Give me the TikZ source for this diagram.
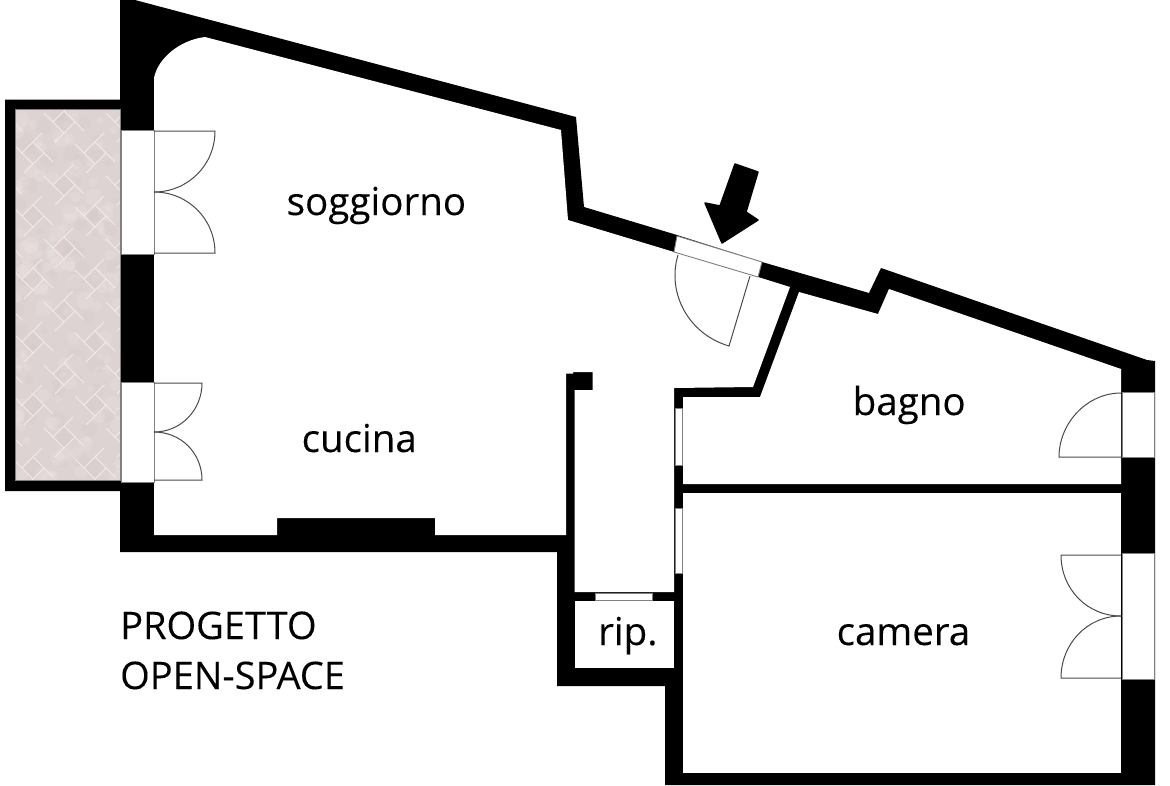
\documentclass[tikz,border=0pt]{standalone}
\usepackage{fontspec}
\setmainfont[FakeBold=0.12]{Open Sans}
\definecolor{pave}{HTML}{DED3D3}
\definecolor{paveline}{HTML}{F0EAEA}
\definecolor{paveshade}{HTML}{C6B9B9}
\definecolor{doorline}{HTML}{4A4A4A}
\tikzset{
  wallfill/.style={fill=black,draw=none},
  roomfill/.style={fill=white,draw=none},
  winbox/.style={fill=white,draw=doorline!70,line width=0.9pt},
  leaf/.style={draw=doorline,line width=1pt},
  label/.style={inner sep=0pt,anchor=base west,font=\fontsize{38.5}{38.5}\selectfont,text=black},
  caps/.style={label,font=\fontsize{38}{38}\selectfont},
}
\begin{document}
\begin{tikzpicture}[x=1pt,y=-1pt]
\useasboundingbox (0,0) rectangle (1170,785);
% outer masonry
\path[wallfill] (120,0) -- (135,0) -- (576,117) -- (584,207) -- (677,235) -- (762,262) -- (869,293) -- (881,268) -- (1147,360) -- (1155,361) -- (1155,785) -- (665,785) -- (665,686) -- (557,686) -- (557,552) -- (120,552) -- (120,491) -- (5,491) -- (5,99.5) -- (120,99.5) -- cycle;
% rooms
\path[roomfill] (205,37) -- (561,130) -- (568,220) -- (674,252) -- (758,277) -- (790,287) -- (753,387) -- (674,388) -- (674,592) -- (574.5,592) -- (574.5,390) -- (592.5,390) -- (592.5,372) -- (573,372) -- (573,373.5) -- (566,373.5) -- (566,535) -- (435,535) -- (435,518) -- (277,518) -- (277,535) -- (154,535) -- (154,78) .. controls (158,58) and (180,40) .. (205,37) -- cycle;
\path[roomfill] (799,292) -- (878,314) -- (889,289) -- (1121,369) -- (1121,484) -- (683,484) -- (683,397) -- (760,397) -- cycle;
\path[roomfill] (683,493) rectangle (1121,773);
\path[roomfill] (574.5,601) rectangle (673.7,668);
% terrace paving
\begin{scope}
\clip (15,109) rectangle (120,480);
\fill[pave] (15,109) rectangle (120,480);
\pgfmathsetseed{42}
\foreach \i in {1,...,170}{
  \pgfmathsetmacro{\px}{15+105*rnd}
  \pgfmathsetmacro{\py}{109+371*rnd}
  \pgfmathsetmacro{\pr}{3+6*rnd}
  \pgfmathsetmacro{\pk}{rnd<0.65?1:0}
  \ifdim\pk pt>0.5pt
    \fill[white,opacity=0.10] (\px,\py) circle[radius=\pr];
  \else
    \fill[paveshade,opacity=0.10] (\px,\py) circle[radius=\pr];
  \fi
}
\foreach \j in {-1,...,6}{
  \foreach \k in {-1,...,2}{
    \foreach \ox/\oy in {0/0,-31/31}{
      \pgfmathsetmacro{\cx}{64+62*\k+\ox}
      \pgfmathsetmacro{\cy}{122+63*\j+\oy}
      \fill[paveshade,opacity=0.16] (\cx,\cy-10) -- (\cx+10,\cy) -- (\cx,\cy+10) -- (\cx-10,\cy) -- cycle;
      \draw[paveline,line width=0.8pt]
        (\cx,\cy-11) -- (\cx+20,\cy+9)
        (\cx+11,\cy) -- (\cx-9,\cy+20)
        (\cx,\cy+11) -- (\cx-20,\cy-9)
        (\cx-11,\cy) -- (\cx+9,\cy-20)
        (\cx,\cy-11) -- (\cx+11,\cy) -- (\cx,\cy+11) -- (\cx-11,\cy) -- cycle;
    }
  }
}
\end{scope}
\draw[doorline!70,line width=0.8pt] (15,109) rectangle (120,480);
% window and door openings
\path[winbox] (121,130) rectangle (154,254);
\path[winbox] (121,382) rectangle (154,482);
\path[winbox] (1122,392) rectangle (1154,457);
\path[winbox] (1122,553) rectangle (1154,679);
\path[winbox] (675,408) rectangle (682,465);
\path[winbox] (675,508) rectangle (682,573);
\path[winbox] (595,593) rectangle (652,600);
\path[winbox] (677,236) -- (762,262) -- (758,277) -- (674,252) -- cycle;
% door leaves
\draw[leaf] (154,131) -- (215,131) .. controls (215,165) and (188,192) .. (154,192);
\draw[leaf] (154,192) .. controls (188,192) and (215,219) .. (215,253) -- (154,253);
\draw[leaf] (154,383) -- (202,383) .. controls (202,410) and (181,432) .. (154,432);
\draw[leaf] (154,432) .. controls (181,432) and (202,453) .. (202,480) -- (154,480);
\draw[leaf] (1121,393) .. controls (1087,393) and (1059,423) .. (1059,457) -- (1121,457);
\draw[leaf] (1121,555) -- (1061,555) .. controls (1061,589) and (1087,616) .. (1121,616);
\draw[leaf] (1121,616) .. controls (1087,616) and (1061,644) .. (1061,678) -- (1121,678);
\draw[leaf] (750,276) -- (729,346) .. controls (689.2,334.4) and (666.4,293.7) .. (678,255);
% entrance arrow
\fill[black,draw=black,line width=1.5pt,line join=round] (735,164) -- (758,172) -- (746,212) -- (758,220) -- (722,243) -- (705,203) -- (720,206) -- cycle;
% labels
\node[label] (soggiorno) at (286.5,215) {soggiorno};
\node[label] (cucina) at (301.5,452) {cucina};
\node[label] (bagno) at (852.5,415) {bagno};
\node[label] (camera) at (836.5,645) {camera};
\node[label] (rip) at (598,645) {rip.};
\node[caps] (progetto) at (120,639) {PROGETTO};
\node[caps] (openspace) at (120,689) {OPEN-SPACE};
\end{tikzpicture}
\end{document}
